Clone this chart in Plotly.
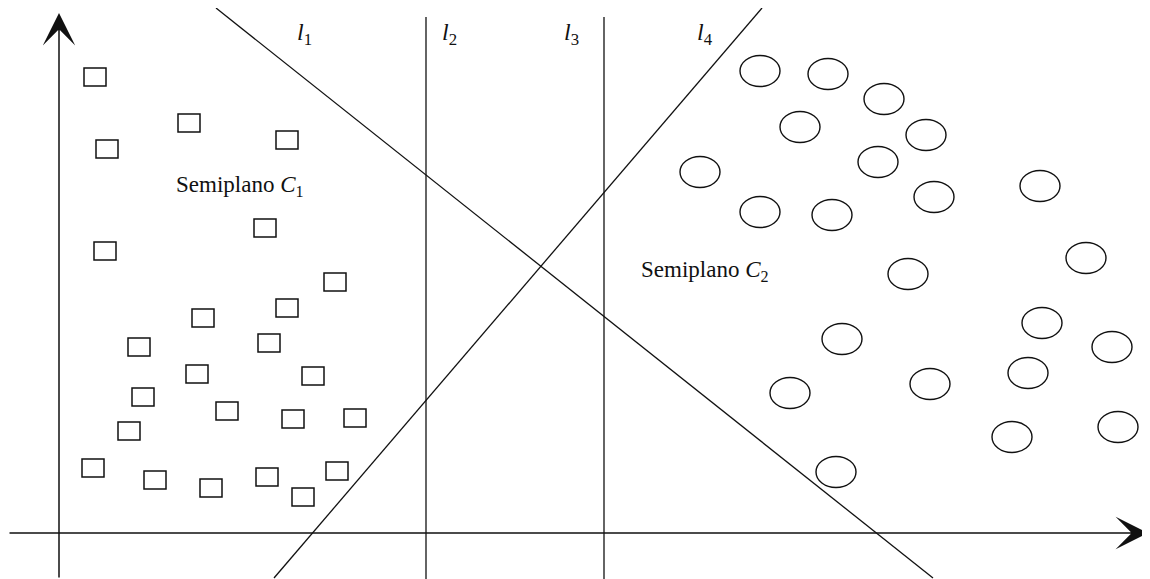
import plotly.graph_objects as go

# ---------------- data (pixel-like diagram coordinates) ----------------
square_x = [95, 189, 107, 287, 265, 105, 335, 287, 203, 139, 269, 197,
            313, 143, 227, 293, 355, 129, 93, 155, 211, 267, 303, 337]
square_y = [77, 123, 149, 140, 228, 251, 282, 308, 318, 347, 343, 374,
            376, 397, 411, 419, 418, 431, 468, 480, 488, 477, 497, 471]

circle_x = [760, 828, 884, 800, 926, 700, 878, 934, 760, 832, 908,
            842, 790, 930, 836, 1040, 1086, 1042, 1112, 1028, 1012, 1118]
circle_y = [71, 74, 99, 127, 135, 172, 162, 197, 212, 215, 274,
            339, 393, 384, 472, 186, 258, 323, 347, 373, 437, 427]

# separating lines l1..l4 (end points)
line_names = ["l1", "l2", "l3", "l4"]
line_x = [[216, 933], [426, 426], [604, 604], [762, 274]]
line_y = [[8, 578], [17, 579], [17, 579], [8, 578]]

# line labels
label_text = ["<i>l</i><sub>1</sub>", "<i>l</i><sub>2</sub>",
              "<i>l</i><sub>3</sub>", "<i>l</i><sub>4</sub>"]
label_x = [304, 449, 571, 705]
label_y = [34, 34, 34, 34]

# half-plane labels
region_text = ["Semiplano <i>C</i><sub>1</sub>", "Semiplano <i>C</i><sub>2</sub>"]
region_x = [240, 705]
region_y = [186, 271]

# coordinate axes: (tail, tip)
xaxis_pts = [(8, 533), (1148, 533)]
yaxis_pts = [(59, 579), (59, 13)]

# ---------------- styles ----------------
SQ_W, SQ_H = 22, 18
EL_W, EL_H = 40, 31
INK = "#111111"
FONT = "Liberation Serif"
PAGE_MARGIN = 8  # default body margin of the html page

fig = go.Figure()

for name, xs, ys in zip(line_names, line_x, line_y):
    fig.add_trace(go.Scatter(x=xs, y=ys, mode="lines", name=name,
                             line=dict(color=INK, width=1.3),
                             hoverinfo="skip", showlegend=False))

shapes = []
for cx, cy in zip(square_x, square_y):
    shapes.append(dict(type="rect", xref="x", yref="y",
                       x0=cx - SQ_W / 2, x1=cx + SQ_W / 2,
                       y0=cy - SQ_H / 2, y1=cy + SQ_H / 2,
                       line=dict(color=INK, width=1.5), fillcolor="rgba(0,0,0,0)"))
for cx, cy in zip(circle_x, circle_y):
    shapes.append(dict(type="circle", xref="x", yref="y",
                       x0=cx - EL_W / 2, x1=cx + EL_W / 2,
                       y0=cy - EL_H / 2, y1=cy + EL_H / 2,
                       line=dict(color=INK, width=1.4), fillcolor="rgba(0,0,0,0)"))

annotations = []
for (tail, tip) in (xaxis_pts, yaxis_pts):
    annotations.append(dict(x=tip[0], y=tip[1], ax=tail[0], ay=tail[1],
                            xref="x", yref="y", axref="x", ayref="y",
                            text="", showarrow=True, arrowhead=3,
                            arrowsize=3.6, arrowwidth=1.5, arrowcolor=INK,
                            standoff=0, startstandoff=0))
for t, x, y in zip(label_text, label_x, label_y):
    annotations.append(dict(x=x, y=y, xref="x", yref="y", text=t,
                            showarrow=False, xanchor="center", yanchor="middle",
                            font=dict(family=FONT, size=24, color=INK)))
for t, x, y in zip(region_text, region_x, region_y):
    annotations.append(dict(x=x, y=y, xref="x", yref="y", text=t,
                            showarrow=False, xanchor="center", yanchor="middle",
                            font=dict(family=FONT, size=23, color=INK)))

W, H = 1150, 579
fig.update_layout(
    width=W - PAGE_MARGIN, height=H - PAGE_MARGIN, autosize=False,
    margin=dict(l=0, r=0, t=0, b=0),
    paper_bgcolor="white", plot_bgcolor="white",
    shapes=shapes, annotations=annotations,
    xaxis=dict(range=[PAGE_MARGIN, W], visible=False, fixedrange=True),
    yaxis=dict(range=[H, PAGE_MARGIN], visible=False, fixedrange=True),
    showlegend=False,
)

fig.write_html("out.html", config={"displayModeBar": False})
